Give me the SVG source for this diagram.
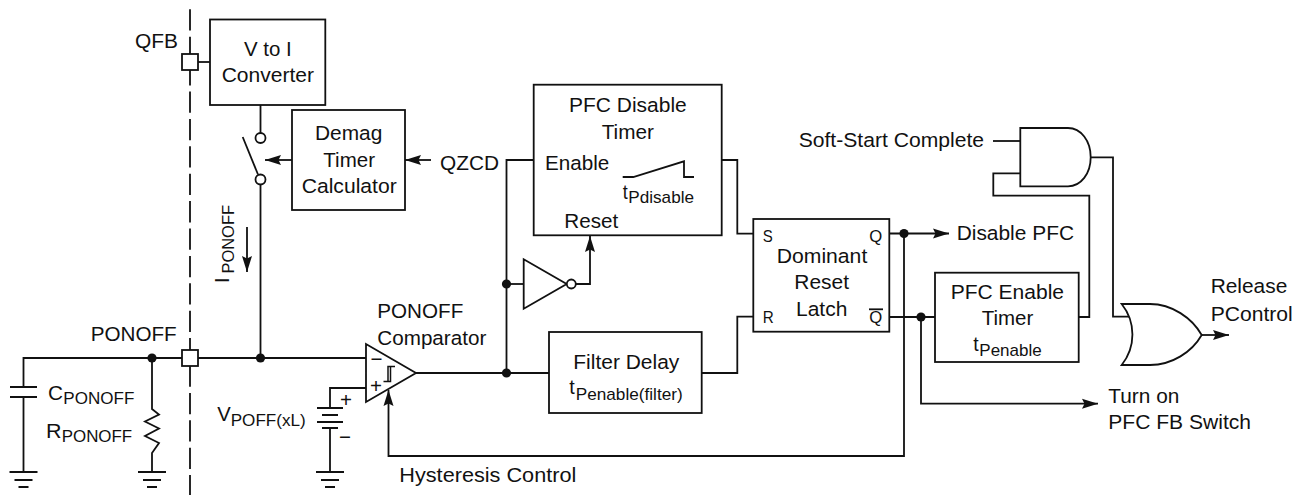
<svg xmlns="http://www.w3.org/2000/svg" width="1303" height="495" viewBox="0 0 1303 495">
<style>
text{font-family:"Liberation Sans",Arial,sans-serif;font-size:20.500px;fill:#111}
.s{font-size:17px}
.m{font-size:16.500px}
.b{fill:#fff;stroke:#111;stroke-width:1.800}
.w{fill:none;stroke:#111;stroke-width:1.800}
.d{fill:#111;stroke:none}
</style>
<defs>
<marker id="a" markerUnits="userSpaceOnUse" markerWidth="17" markerHeight="12" refX="16" refY="6" orient="auto"><path d="M0 1 L16 6 L0 11 L2.500 6Z" fill="#111"/></marker>
<g id="gnd" class="w"><path d="M-14 0H14M-9 8H9M-5 15H5"/></g>
</defs>
<rect width="1303" height="495" fill="#fff"/>
<line id="boundary" x1="190" y1="9.300" x2="190" y2="495" class="w" stroke-dasharray="21.300 6.100"/>
<g id="connectors" class="w">
<path d="M182 358H23.500V387M23.500 397V472"/>
<path d="M152 358V409L159 414.500L145 421.500L159 428.500L145 436L159 443L152 453V472"/>
<path d="M198 358H366"/>
<path d="M198 62H210"/>
<path d="M260.500 105V133M260.500 184.500V358"/>
<path d="M242.700 137L258 174.500"/>
<path d="M292 160H265" marker-end="url(#a)"/>
<path d="M431 160H405" marker-end="url(#a)"/>
<path d="M247 227V272" marker-end="url(#a)"/>
<path d="M366 388H330V408M330 427V472"/>
<path d="M416 373H549"/>
<path d="M534 160H506.500V373"/>
<path d="M506.500 284H524"/>
<path d="M576 284H590V236" marker-end="url(#a)"/>
<path d="M701.700 373H737.300V316.700H753.300"/>
<path d="M721.700 160H737.300V233.700H753.300"/>
<path d="M889.300 233.500H949" marker-end="url(#a)"/>
<path d="M904 233.500V456H388.500V390" marker-end="url(#a)"/>
<path d="M889.300 317H935"/>
<path d="M921 317V403.700H1098" marker-end="url(#a)"/>
<path d="M1078.700 317H1089.300V195.700H993.300V173.300H1020.300"/>
<path d="M993 141H1020.300"/>
<path d="M1090.700 157.300H1113V316.700H1131"/>
<path d="M1201.700 335H1229" marker-end="url(#a)"/>
<circle class="d" cx="152" cy="358" r="4.600"/>
<circle class="d" cx="260.500" cy="358" r="4.600"/>
<circle class="d" cx="506.500" cy="284" r="4.600"/>
<circle class="d" cx="506.500" cy="373" r="4.600"/>
<circle class="d" cx="904" cy="233.500" r="4.600"/>
<circle class="d" cx="921" cy="317" r="4.600"/>
</g>
<g id="pin-qfb"><rect class="b" x="182" y="54" width="16" height="16"/><text x="135" y="48" textLength="43" lengthAdjust="spacingAndGlyphs">QFB</text></g>
<g id="pin-ponoff"><rect class="b" x="182" y="350" width="16" height="16"/><text x="90.700" y="340.700" textLength="86" lengthAdjust="spacingAndGlyphs">PONOFF</text></g>
<g id="cap"><path class="w" d="M10 387H37M10 397H37"/><use href="#gnd" x="23.500" y="472"/>
<text x="48" y="400" textLength="15" lengthAdjust="spacingAndGlyphs">C</text><text class="s" x="63.300" y="404" textLength="71" lengthAdjust="spacingAndGlyphs">PONOFF</text></g>
<g id="res"><use href="#gnd" x="152" y="472"/>
<text x="46" y="438" textLength="15.500" lengthAdjust="spacingAndGlyphs">R</text><text class="s" x="61.700" y="441.700" textLength="70.500" lengthAdjust="spacingAndGlyphs">PONOFF</text></g>
<g id="vto-i"><rect class="b" x="210" y="19.500" width="115.300" height="85.500"/>
<text x="244" y="56" textLength="47.700" lengthAdjust="spacingAndGlyphs">V to I</text><text x="221.700" y="81.700" textLength="92.300" lengthAdjust="spacingAndGlyphs">Converter</text></g>
<g id="switch"><circle class="b" cx="260.500" cy="138" r="5"/><circle class="b" cx="260.500" cy="179.500" r="5"/></g>
<g id="ipon"><text transform="translate(228.500 283) rotate(-90)" textLength="5.500" lengthAdjust="spacingAndGlyphs">I</text><text class="s" transform="translate(233.500 273.500) rotate(-90)" textLength="68.500" lengthAdjust="spacingAndGlyphs">PONOFF</text></g>
<g id="demag"><rect class="b" x="292" y="110" width="113" height="100"/>
<text x="315" y="140" textLength="67.300" lengthAdjust="spacingAndGlyphs">Demag</text><text x="323.300" y="166.700" textLength="51.700" lengthAdjust="spacingAndGlyphs">Timer</text><text x="301.700" y="192.700" textLength="95" lengthAdjust="spacingAndGlyphs">Calculator</text></g>
<g id="qzcd"><text x="440" y="170" textLength="59" lengthAdjust="spacingAndGlyphs">QZCD</text></g>
<g id="comparator"><path class="b" d="M366 344V402L416 373Z"/>
<path class="w" d="M383.500 381.500H388V366.500H395M387 381.500H390.500V366.500" style="stroke-width:1.500"/>
<text x="370.500" y="366" textLength="12" lengthAdjust="spacingAndGlyphs">−</text><text x="370" y="393" textLength="12" lengthAdjust="spacingAndGlyphs">+</text>
<text x="377.300" y="317.700" textLength="86" lengthAdjust="spacingAndGlyphs">PONOFF</text><text x="377.300" y="345" textLength="109" lengthAdjust="spacingAndGlyphs">Comparator</text></g>
<g id="battery"><path class="w" d="M317 408H343M322 415H338M317 422H343M322 428H338"/><use href="#gnd" x="330" y="472"/>
<text x="217.300" y="420.700" textLength="13.500" lengthAdjust="spacingAndGlyphs">V</text><text class="s" x="230.700" y="426" textLength="75" lengthAdjust="spacingAndGlyphs">POFF(xL)</text>
<text x="340" y="407" textLength="12" lengthAdjust="spacingAndGlyphs">+</text><text x="339" y="444" textLength="12" lengthAdjust="spacingAndGlyphs">−</text></g>
<g id="hyst"><text x="399.300" y="481.700" textLength="177" lengthAdjust="spacingAndGlyphs">Hysteresis Control</text></g>
<g id="pfc-disable"><rect class="b" x="533.700" y="84.700" width="188" height="150.600"/>
<text x="569" y="111.700" textLength="117.700" lengthAdjust="spacingAndGlyphs">PFC Disable</text><text x="601.700" y="139" textLength="52.300" lengthAdjust="spacingAndGlyphs">Timer</text>
<text x="545" y="170" textLength="64.300" lengthAdjust="spacingAndGlyphs">Enable</text><text x="564.300" y="227.700" textLength="54" lengthAdjust="spacingAndGlyphs">Reset</text>
<path class="w" d="M622.700 177H633.300L684 161.300V177H694"/>
<text x="622.700" y="199.300" textLength="5" lengthAdjust="spacingAndGlyphs">t</text><text class="s" x="628.300" y="203.300" textLength="65.700" lengthAdjust="spacingAndGlyphs">Pdisable</text></g>
<g id="inverter"><path class="b" d="M523.700 259.300V308.700L566.700 284Z"/><circle class="b" cx="571.300" cy="284" r="4.500"/></g>
<g id="filter"><rect class="b" x="549" y="332" width="152.700" height="81"/>
<text x="573.300" y="369.300" textLength="106" lengthAdjust="spacingAndGlyphs">Filter Delay</text>
<text x="569.300" y="394" textLength="5.500" lengthAdjust="spacingAndGlyphs">t</text><text class="s" x="575.700" y="400" textLength="107" lengthAdjust="spacingAndGlyphs">Penable(filter)</text></g>
<g id="latch"><rect class="b" x="753.300" y="219" width="136" height="112.700"/>
<text class="m" x="762.700" y="241.700" textLength="10" lengthAdjust="spacingAndGlyphs">S</text><text class="m" x="869.300" y="241.700" textLength="13" lengthAdjust="spacingAndGlyphs">Q</text>
<text class="m" x="762.700" y="323.300" textLength="11" lengthAdjust="spacingAndGlyphs">R</text><text class="m" x="869.300" y="323.300" textLength="13" lengthAdjust="spacingAndGlyphs">Q</text>
<path class="w" d="M869 309.300H883"/>
<text x="776.700" y="262.700" textLength="90.600" lengthAdjust="spacingAndGlyphs">Dominant</text><text x="794.300" y="289" textLength="54.700" lengthAdjust="spacingAndGlyphs">Reset</text><text x="796" y="316" textLength="51.300" lengthAdjust="spacingAndGlyphs">Latch</text></g>
<g id="softstart"><text x="798.700" y="146.700" textLength="185.300" lengthAdjust="spacingAndGlyphs">Soft-Start Complete</text></g>
<g id="and"><path class="b" d="M1020.300 128H1068C1081 128 1090.700 141 1090.700 157.200C1090.700 173.500 1081 186.300 1068 186.300H1020.300Z"/></g>
<g id="disable-pfc"><text x="956.700" y="240" textLength="117.300" lengthAdjust="spacingAndGlyphs">Disable PFC</text></g>
<g id="pfc-enable"><rect class="b" x="935" y="272.700" width="143.700" height="89.300"/>
<text x="950.700" y="299" textLength="113.300" lengthAdjust="spacingAndGlyphs">PFC Enable</text><text x="981.700" y="325" textLength="51.600" lengthAdjust="spacingAndGlyphs">Timer</text>
<text x="973.300" y="350.700" textLength="5.400" lengthAdjust="spacingAndGlyphs">t</text><text class="s" x="979.300" y="356" textLength="62.400" lengthAdjust="spacingAndGlyphs">Penable</text></g>
<g id="or"><path class="b" d="M1121.700 304H1150C1172 304 1192 318 1201.700 335C1192 352 1172 365 1150 365H1121.700C1136 347 1136 322 1121.700 304Z"/></g>
<g id="release"><text x="1210.700" y="293" textLength="76.600" lengthAdjust="spacingAndGlyphs">Release</text><text x="1210.700" y="320.700" textLength="82" lengthAdjust="spacingAndGlyphs">PControl</text></g>
<g id="turn-on"><text x="1108.300" y="402.700" textLength="71" lengthAdjust="spacingAndGlyphs">Turn on</text><text x="1108.300" y="429" textLength="142.700" lengthAdjust="spacingAndGlyphs">PFC FB Switch</text></g>
</svg>
